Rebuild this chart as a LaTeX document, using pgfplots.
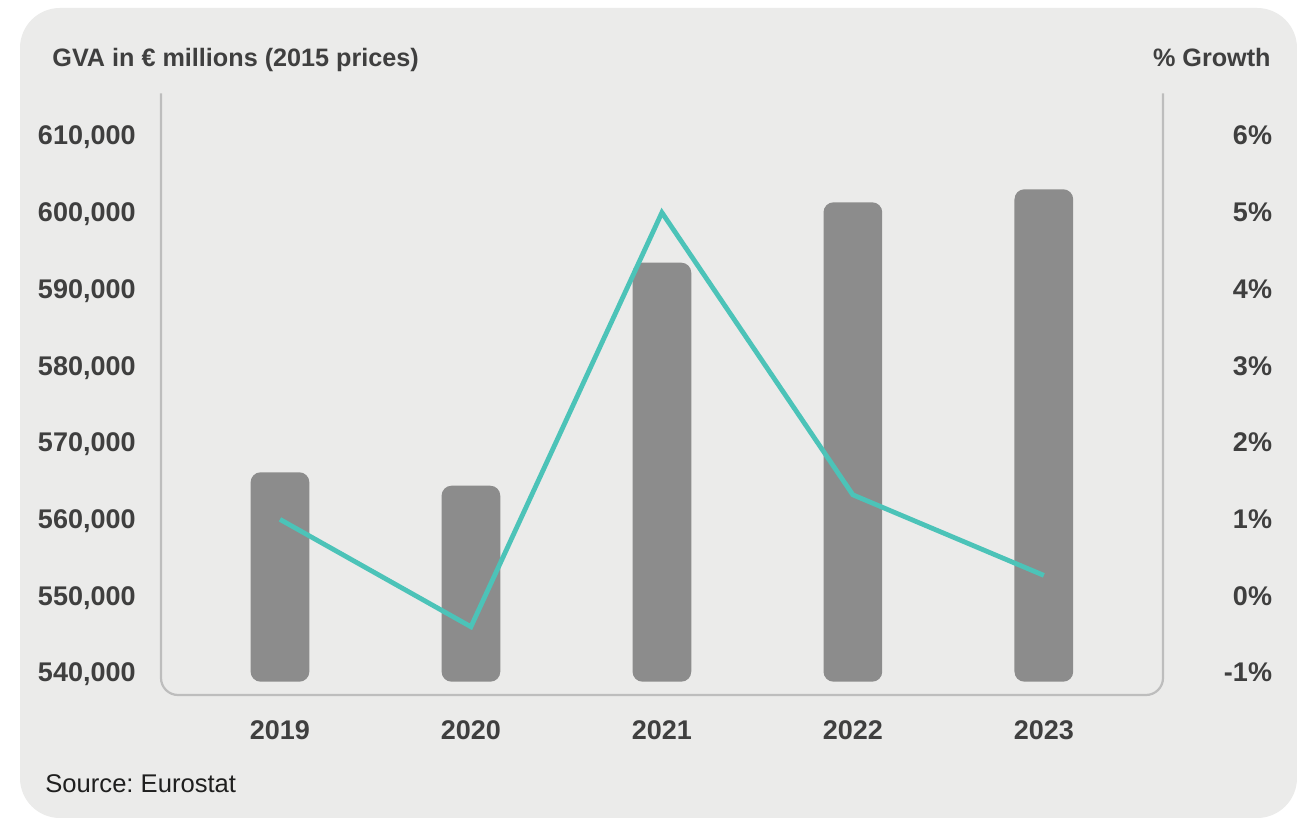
\documentclass[border=0pt]{standalone}
\usepackage{fontspec}
\setmainfont{Liberation Sans}
\usepackage{pgfplots}
\usepackage{pgfplotstable}
\pgfplotsset{compat=1.18}
\frenchspacing

\definecolor{card}{HTML}{EBEBEA}
\definecolor{barc}{HTML}{8C8C8C}
\definecolor{tealc}{HTML}{4CC3B8}
\definecolor{framec}{HTML}{BDBDBD}
\definecolor{txt}{HTML}{3F3F3F}
\definecolor{srcc}{HTML}{1F1F1F}

% rectangles as line paths, so that rounded corners apply to bars
\newdimen\rbxa \newdimen\rbya \newdimen\rbxb \newdimen\rbyb
\makeatletter
\def\pgfpathrectangle#1#2{%
  \pgf@process{#1}\rbxa=\pgf@x \rbya=\pgf@y
  \pgf@process{#2}\rbxb=\pgf@x \rbyb=\pgf@y
  \advance\rbxb by\rbxa \advance\rbyb by\rbya
  \pgfpathmoveto{\pgfqpoint{\rbxa}{\rbya}}%
  \pgfpathlineto{\pgfqpoint{\rbxa}{\rbyb}}%
  \pgfpathlineto{\pgfqpoint{\rbxb}{\rbyb}}%
  \pgfpathlineto{\pgfqpoint{\rbxb}{\rbya}}%
  \pgfpathclose}
\makeatother

\pgfplotstableread{
x year gva growth
0 2019 566140 1.00
1 2020 564390 -0.40
2 2021 593470 5.00
3 2022 601340 1.32
4 2023 603040 0.27
}\data

\newcommand\tickfont{\fontsize{13.5}{16}\selectfont\bfseries}

\begin{document}
\begin{tikzpicture}
% page and card
\path[fill=white] (0pt,0pt) rectangle (648.5pt,-409pt);
\fill[card, rounded corners=20pt] (10pt,-4pt) rectangle (648.5pt,-409pt);

\begin{axis}[
  at={(80.5pt,-347.5pt)}, anchor=south west,
  scale only axis, width=501pt, height=300.85pt,
  xmin=-0.623, xmax=4.624,
  ymin=537105, ymax=615554,
  scaled y ticks=false,
  ybar stacked, bar width=29.35pt,
  axis line style={draw=none}, tick style={draw=none}, major tick length=0pt,
  xtick={0,1,2,3,4}, xticklabels={2019,2020,2021,2022,2023},
  xticklabel style={anchor=base, inner sep=0pt, yshift=-22pt, font=\tickfont, text=txt},
  ytick={540000,550000,560000,570000,580000,590000,600000,610000},
  yticklabels={{540,000},{550,000},{560,000},{570,000},{580,000},{590,000},{600,000},{610,000}},
  yticklabel style={anchor=base east, inner sep=0pt, xshift=-12.5pt, yshift=-4.55pt, font=\tickfont, text=txt},
]
\addplot[draw=none, fill=none, forget plot] table[x=x, y expr=538840] {\data};
\addplot[draw=none, fill=barc, rounded corners=5pt] table[x=x, y expr=\thisrow{gva}-538840] {\data};
\end{axis}

\begin{axis}[
  at={(80.5pt,-347.5pt)}, anchor=south west,
  scale only axis, width=501pt, height=300.85pt,
  xmin=-0.623, xmax=4.624,
  ymin=-1.2895, ymax=6.555,
  axis line style={draw=none}, tick style={draw=none}, major tick length=0pt,
  xtick=\empty,
  ytick={-1,0,1,2,3,4,5,6},
  yticklabels={-1\%,0\%,1\%,2\%,3\%,4\%,5\%,6\%},
  yticklabel pos=right,
  yticklabel style={anchor=base east, inner sep=0pt, xshift=54.7pt, yshift=-4.55pt, font=\tickfont, text=txt},
]
\addplot[tealc, line width=2.4pt, mark=none] table[x=x, y=growth] {\data};
\end{axis}

% axis frame
\draw[framec, line width=1.1pt, rounded corners=8.5pt]
  (80.5pt,-46.65pt) |- (331pt,-347.5pt) -| (581.5pt,-46.65pt);

% titles
\node[anchor=base west, inner sep=0pt, text=txt, font=\fontsize{12.6}{15}\selectfont\bfseries]
  at (26pt,-33.3pt) {GVA in € millions (2015 prices)};
\node[anchor=base east, inner sep=0pt, text=txt, font=\fontsize{12.6}{15}\selectfont\bfseries]
  at (635.5pt,-33.3pt) {\% Growth};
\node[anchor=base west, inner sep=0pt, text=srcc, font=\fontsize{12.8}{15}\selectfont]
  at (22.5pt,-396.2pt) {Source: Eurostat};
\end{tikzpicture}
\end{document}
